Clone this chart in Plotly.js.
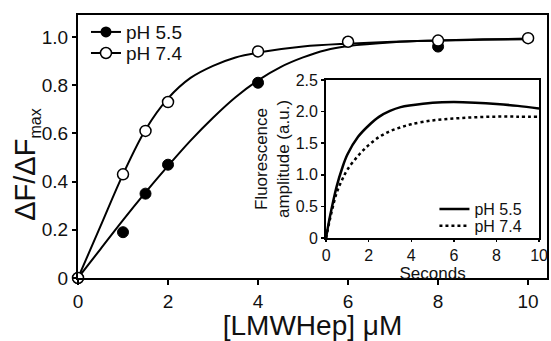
<!DOCTYPE html>
<html><head><meta charset="utf-8">
<script src="https://cdn.plot.ly/plotly-3.0.1.min.js"></script>
<style>html,body{margin:0;padding:0;background:#fff}#chart{width:551px;height:341px}</style>
</head><body><div id="chart"></div>
<script>
// Binding data points
const x55 = [0, 1, 1.5, 2, 4, 8];
const y55 = [0, 0.19, 0.35, 0.47, 0.81, 0.96];
const x74 = [0, 1, 1.5, 2, 4, 6, 8, 10];
const y74 = [0, 0.43, 0.61, 0.73, 0.94, 0.98, 0.985, 0.995];
// Fitted curves
const fitX55 = [0,0.5,1,1.5,2,2.5,3,3.5,4,4.5,5,5.5,6,7,8,9,10];
const fitY55 = [0,0.12,0.24,0.355,0.465,0.57,0.665,0.75,0.82,0.875,0.915,0.945,0.962,0.978,0.985,0.99,0.993];
const fitX74 = [0,0.5,1,1.5,2,2.5,3,3.5,4,5,6,7,8,9,10];
const fitY74 = [0,0.215,0.43,0.615,0.745,0.83,0.88,0.915,0.935,0.96,0.972,0.98,0.985,0.988,0.99];
// Inset kinetics
const tX55 = [0,0.1,0.25,0.5,0.75,1,1.5,2,2.5,3,3.5,4,5,6,7,8,9,10];
const tY55 = [0,0.2,0.45,0.82,1.1,1.32,1.6,1.78,1.92,2.01,2.07,2.1,2.14,2.15,2.14,2.12,2.09,2.05];
const tX74 = [0,0.25,0.5,0.75,1,1.5,2,2.5,3,3.5,4,5,6,7,8,9,10];
const tY74 = [0,0.4,0.72,0.92,1.08,1.3,1.47,1.6,1.69,1.75,1.8,1.86,1.89,1.91,1.92,1.92,1.92];
const mainXTicks = [0,2,4,6,8,10];
const mainYTicks = [0,0.2,0.4,0.6,0.8,1.0];
const mainYText = ['0','0.2','0.4','0.6','0.8','1.0'];
const insetXTicks = [0,2,4,6,8,10];
const insetYTicks = [0,0.5,1.0,1.5,2.0,2.5];
const insetYText = ['0','0.5','1.0','1.5','2.0','2.5'];
const labels = ['pH 5.5','pH 7.4'];

const F = 'Liberation Sans, Arial, sans-serif';
const traces = [
  {x: fitX55, y: fitY55, mode:'lines', line:{color:'#000', width:2, shape:'spline'}, showlegend:false, hoverinfo:'skip'},
  {x: fitX74, y: fitY74, mode:'lines', line:{color:'#000', width:2, shape:'spline'}, showlegend:false, hoverinfo:'skip'},
  {x: x55, y: y55, mode:'markers', marker:{symbol:'circle', size:11, color:'#000', line:{color:'#000', width:1}}, showlegend:false, cliponaxis:false},
  {x: x74, y: y74, mode:'markers', marker:{symbol:'circle', size:11, color:'#fff', line:{color:'#000', width:1.5}}, showlegend:false, cliponaxis:false},
  {x:[null], y:[null], mode:'lines+markers', name: labels[0], line:{color:'#000', width:2}, marker:{size:11, color:'#000'}, legend:'legend'},
  {x:[null], y:[null], mode:'lines+markers', name: labels[1], line:{color:'#000', width:2}, marker:{size:11, color:'#fff', line:{color:'#000', width:1.5}}, legend:'legend3'},
  {x: tX55, y: tY55, xaxis:'x2', yaxis:'y2', mode:'lines', name: labels[0], line:{color:'#000', width:2.5, shape:'spline'}, legend:'legend2'},
  {x: tX74, y: tY74, xaxis:'x2', yaxis:'y2', mode:'lines', name: labels[1], line:{color:'#000', width:2.5, dash:'dot', shape:'spline'}, legend:'legend4'}
];
const legBase = {bgcolor:'rgba(0,0,0,0)', borderwidth:0, xanchor:'left', yanchor:'middle', tracegroupgap:0};
const layout = {
  width:551, height:341,
  margin:{l:78, r:4, t:15, b:63},
  paper_bgcolor:'#fff', plot_bgcolor:'#fff',
  font:{family:F, color:'#111'},
  xaxis:{range:[0,10.42], domain:[0,1], tickvals:mainXTicks, ticks:'outside', ticklen:5, tickwidth:2, tickcolor:'#000',
    showline:true, linewidth:2, linecolor:'#000', mirror:true, showgrid:false, zeroline:false,
    tickfont:{size:19, family:F}, title:{text:'[LMWHep] μM', font:{size:28, family:F}, standoff:4}},
  yaxis:{range:[0,1.091], domain:[0,1], tickvals:mainYTicks, ticktext:mainYText, ticks:'outside', ticklen:4, tickwidth:2, tickcolor:'#000',
    showline:true, linewidth:2, linecolor:'#000', mirror:true, showgrid:false, zeroline:false,
    tickfont:{size:19, family:F}},
  xaxis2:{anchor:'y2', domain:[0.529,0.983], range:[0,10], tickvals:insetXTicks, ticks:'outside', ticklen:2, tickwidth:1.5, tickcolor:'#000',
    showline:true, linewidth:2, linecolor:'#000', mirror:true, showgrid:false, zeroline:false,
    tickfont:{size:16, family:F}, title:{text:'Seconds', font:{size:17, family:F}, standoff:0}},
  yaxis2:{anchor:'x2', domain:[0.152,0.753], range:[0,2.5], tickvals:insetYTicks, ticktext:insetYText, ticks:'outside', ticklen:3, tickwidth:1.5, tickcolor:'#000',
    showline:true, linewidth:2, linecolor:'#000', mirror:true, showgrid:false, zeroline:false,
    tickfont:{size:16, family:F}, title:{text:'Fluorescence<br>amplitude (a.u.)', font:{size:17, family:F}, standoff:2}},
  annotations:[{text:'ΔF/ΔF<sub><span style="font-size:16px">max</span></sub>', textangle:-90, showarrow:false,
    xref:'paper', yref:'paper', x:-0.109, y:0.43, xanchor:'center', yanchor:'middle', font:{size:29, family:F, color:'#111'}}],
  legend:Object.assign({}, legBase, {x:0.017, y:0.935, font:{size:19, family:F}}),
  legend3:Object.assign({}, legBase, {x:0.017, y:0.855, font:{size:19, family:F}}),
  legend2:Object.assign({}, legBase, {x:0.76, y:0.262, font:{size:16, family:F}}),
  legend4:Object.assign({}, legBase, {x:0.76, y:0.198, font:{size:16, family:F}}),
  showlegend:true
};
Plotly.newPlot('chart', traces, layout, {staticPlot:true, displayModeBar:false});
</script></body></html>
